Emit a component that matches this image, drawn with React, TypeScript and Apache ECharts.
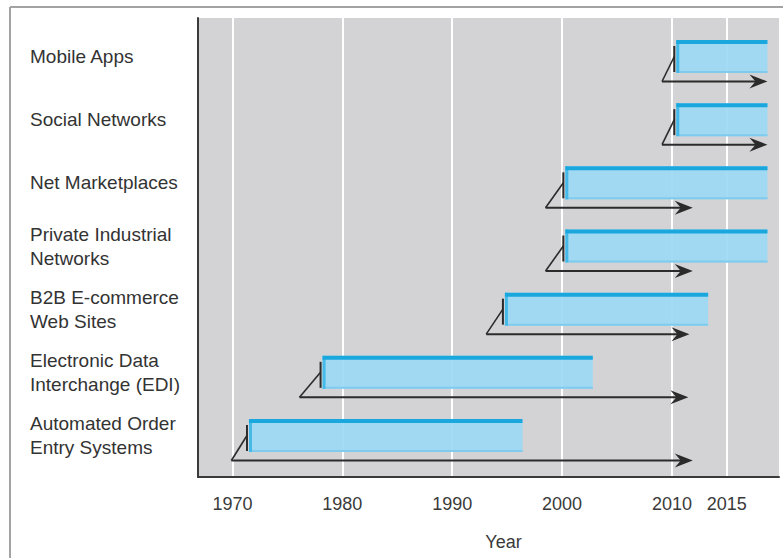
import React, { useEffect, useRef } from "react";
import * as echarts from "echarts";

const categories = [
  "Mobile Apps",
  "Social Networks",
  "Net Marketplaces",
  "Private Industrial\nNetworks",
  "B2B E-commerce\nWeb Sites",
  "Electronic Data\nInterchange (EDI)",
  "Automated Order\nEntry Systems",
];
const barStart = [2010.4, 2010.4, 2000.3, 2000.3, 1994.8, 1978.2, 1971.5];
const barEnd = [2018.7, 2018.7, 2018.7, 2018.7, 2013.3, 2002.8, 1996.4];
const arrowStart = [2009.1, 2009.1, 1998.5, 1998.5, 1993.1, 1976.1, 1969.9];
const arrowEnd = [2018.7, 2018.7, 2011.9, 2011.9, 2011.6, 2011.5, 2011.9];
const tickYears = [1970, 1980, 1990, 2000, 2010, 2015];

const X_MIN = 1966.86;
const X_MAX = 2019.75;

export default function App() {
  const ref = useRef<HTMLDivElement>(null);
  useEffect(() => {
    document.body.style.margin = "0";
    const chart = echarts.init(ref.current!, null, { renderer: "svg" });
    const data = categories.map((_, i) => [i, barStart[i], barEnd[i], arrowStart[i], arrowEnd[i]]);
    const font = "Liberation Sans, Arial, Helvetica, sans-serif";
    chart.setOption({
      animation: false,
      backgroundColor: "#ffffff",
      textStyle: { fontFamily: font },
      graphic: [
        { type: "line", shape: { x1: 10, y1: 7, x2: 783, y2: 7 }, style: { stroke: "#a3a3a3", lineWidth: 2 }, z: 10 },
        { type: "line", shape: { x1: 10, y1: 7, x2: 10, y2: 558 }, style: { stroke: "#a3a3a3", lineWidth: 2 }, z: 10 },
      ],
      grid: [
        { left: 198, right: 4, top: 18, bottom: 81, show: true, backgroundColor: "#d3d3d5", borderWidth: 0 },
        { left: 198, right: 4, top: 24.9, height: 442.2, show: false },
      ],
      xAxis: [
        {
          gridIndex: 0,
          type: "value",
          min: X_MIN,
          max: X_MAX,
          axisLine: { show: true, lineStyle: { color: "#3a3a3a", width: 2 } },
          axisTick: { show: false, customValues: tickYears },
          axisLabel: {
            customValues: tickYears,
            formatter: (v: number) => String(v),
            fontSize: 18,
            color: "#3a3a3a",
            margin: 18,
            fontFamily: font,
          },
          splitLine: { show: true, lineStyle: { color: "#ffffff", width: 2 } },
          name: "Year",
          nameLocation: "middle",
          nameGap: 56,
          nameTextStyle: { fontSize: 18, color: "#3a3a3a", padding: [0, 0, 0, 30], fontFamily: font },
        },
        { gridIndex: 1, type: "value", min: X_MIN, max: X_MAX, show: false },
      ],
      yAxis: [
        {
          gridIndex: 0,
          type: "value",
          min: 0,
          max: 1,
          axisLine: { show: true, lineStyle: { color: "#3a3a3a", width: 2 } },
          axisTick: { show: false },
          axisLabel: { show: false },
          splitLine: { show: false },
        },
        {
          gridIndex: 1,
          type: "category",
          inverse: true,
          data: categories,
          axisLine: { show: false },
          axisTick: { show: false },
          splitLine: { show: false },
          axisLabel: {
            align: "left",
            margin: 168,
            fontSize: 19,
            lineHeight: 24,
            color: "#333333",
            fontFamily: font,
          },
        },
      ],
      series: [
        {
          type: "custom",
          xAxisIndex: 1,
          yAxisIndex: 1,
          data,
          renderItem: (params: any, api: any) => {
            const idx = api.value(0);
            const p0 = api.coord([api.value(1), idx]);
            const p1 = api.coord([api.value(2), idx]);
            const a0 = api.coord([api.value(3), idx]);
            const a1 = api.coord([api.value(4), idx]);
            const yc = p0[1];
            const top = yc - 16.5;
            const h = 33;
            const ay = yc + 25;
            const tickX = p0[0] - 2;
            const w = p1[0] - p0[0];
            const ink = "#2b2b2b";
            return {
              type: "group",
              children: [
                { type: "rect", shape: { x: p0[0], y: top, width: w, height: h }, style: { fill: "#9dd9f5", opacity: 0.93 } },
                { type: "rect", shape: { x: p0[0], y: top + h - 2, width: w, height: 2 }, style: { fill: "#7fcbee" } },
                { type: "rect", shape: { x: p0[0], y: top, width: 3, height: h }, style: { fill: "#45bae8" } },
                { type: "rect", shape: { x: p0[0], y: top, width: w, height: 4 }, style: { fill: "#1aa7de" } },
                { type: "line", shape: { x1: tickX, y1: yc - 10.5, x2: tickX, y2: yc + 15.5 }, style: { stroke: ink, lineWidth: 2 } },
                { type: "line", shape: { x1: a0[0], y1: ay, x2: tickX, y2: yc }, style: { stroke: ink, lineWidth: 1.6 } },
                { type: "line", shape: { x1: a0[0], y1: ay, x2: a1[0] - 10, y2: ay }, style: { stroke: ink, lineWidth: 2 } },
                {
                  type: "polygon",
                  shape: { points: [[a1[0], ay], [a1[0] - 18, ay - 7], [a1[0] - 12, ay], [a1[0] - 18, ay + 7]] },
                  style: { fill: ink },
                },
              ],
            };
          },
        },
      ],
    });
    return () => chart.dispose();
  }, []);
  return <div ref={ref} style={{ width: 783, height: 558 }} />;
}
